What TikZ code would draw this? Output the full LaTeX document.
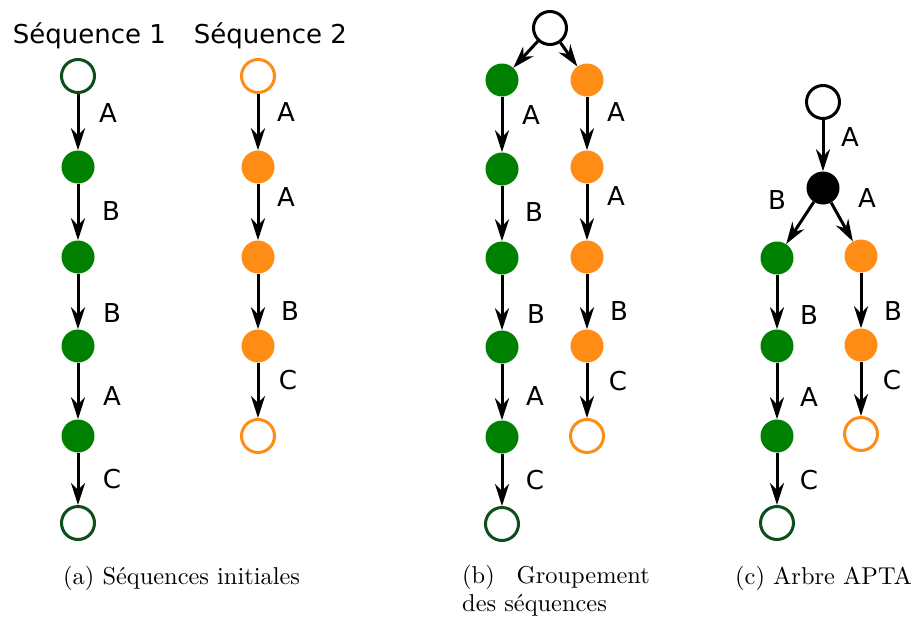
\documentclass[tikz,border=0pt]{standalone}
\usepackage{fontspec}
\newfontfamily\lblfont{DejaVu Sans}
\newfontfamily\capfont{lmroman10-regular}[Extension=.otf]
\usetikzlibrary{arrows.meta}
\definecolor{sgreen}{RGB}{0,128,0}
\definecolor{dgreen}{RGB}{14,78,26}
\definecolor{sorange}{RGB}{255,140,20}
\begin{document}
\begin{tikzpicture}[x=1pt,y=-1pt,
  full/.style={circle, minimum size=33pt, inner sep=0pt},
  fullg/.style={full, fill=sgreen},
  fullo/.style={full, fill=sorange},
  fullk/.style={full, fill=black},
  openn/.style={circle, minimum size=33pt, inner sep=0pt, line width=3pt, fill=white},
  openg/.style={openn, draw=dgreen},
  openo/.style={openn, draw=sorange},
  openk/.style={openn, draw=black},
  arr/.style={-{Stealth[length=22pt,width=14pt,inset=7pt]}, line width=3pt},
  lbl/.style={font=\lblfont\fontsize{26}{30}\selectfont, inner sep=0pt},
  ttl/.style={lbl, anchor=base},
  captxt/.style={font=\capfont\fontsize{24.4}{29}\selectfont, inner sep=0pt}
]
\useasboundingbox (0,0) rectangle (922,622);

% ---------- panel (a) ----------
\node[ttl] (t1) at (89.5,43) {Séquence 1};
\node[ttl] (t2) at (270.5,43) {Séquence 2};

\node[openg] (s1n0) at (78,76) {};
\node[fullg] (s1n1) at (78,167) {};
\node[fullg] (s1n2) at (78,257) {};
\node[fullg] (s1n3) at (78,346) {};
\node[fullg] (s1n4) at (78,436) {};
\node[openg] (s1n5) at (78,523) {};
\draw[arr] (s1n0) -- (s1n1);
\draw[arr] (s1n1) -- (s1n2);
\draw[arr] (s1n2) -- (s1n3);
\draw[arr] (s1n3) -- (s1n4);
\draw[arr] (s1n4) -- (s1n5);
\node[lbl] (la1) at (108,113) {A};
\node[lbl] (la2) at (111,211) {B};
\node[lbl] (la3) at (112,313) {B};
\node[lbl] (la4) at (112,396) {A};
\node[lbl] (la5) at (112,479) {C};

\node[openo] (s2n0) at (258,76) {};
\node[fullo] (s2n1) at (258,167) {};
\node[fullo] (s2n2) at (258,257) {};
\node[fullo] (s2n3) at (258,346) {};
\node[openo] (s2n4) at (258,436) {};
\draw[arr] (s2n0) -- (s2n1);
\draw[arr] (s2n1) -- (s2n2);
\draw[arr] (s2n2) -- (s2n3);
\draw[arr] (s2n3) -- (s2n4);
\node[lbl] (lb1) at (286,112) {A};
\node[lbl] (lb2) at (286,197) {A};
\node[lbl] (lb3) at (290,311) {B};
\node[lbl] (lb4) at (288,380) {C};

% ---------- panel (b) ----------
\node[openk] (broot) at (550,28) {};
\node[fullg] (bl0) at (502,80) {};
\node[fullg] (bl1) at (502,169) {};
\node[fullg] (bl2) at (502,258) {};
\node[fullg] (bl3) at (502,347) {};
\node[fullg] (bl4) at (502,437) {};
\node[openg] (bl5) at (502,524) {};
\node[fullo] (br0) at (587,80) {};
\node[fullo] (br1) at (587,167) {};
\node[fullo] (br2) at (587,257) {};
\node[fullo] (br3) at (587,346) {};
\node[openo] (br4) at (587,436) {};
\draw[arr] (broot) -- (bl0);
\draw[arr] (broot) -- (br0);
\draw[arr] (bl0) -- (bl1);
\draw[arr] (bl1) -- (bl2);
\draw[arr] (bl2) -- (bl3);
\draw[arr] (bl3) -- (bl4);
\draw[arr] (bl4) -- (bl5);
\draw[arr] (br0) -- (br1);
\draw[arr] (br1) -- (br2);
\draw[arr] (br2) -- (br3);
\draw[arr] (br3) -- (br4);
\node[lbl] (lc1) at (531,115) {A};
\node[lbl] (lc2) at (534,212) {B};
\node[lbl] (lc3) at (536,314) {B};
\node[lbl] (lc4) at (535,396) {A};
\node[lbl] (lc5) at (535,480) {C};
\node[lbl] (ld1) at (616,112) {A};
\node[lbl] (ld2) at (616,196) {A};
\node[lbl] (ld3) at (619,311) {B};
\node[lbl] (ld4) at (618,381) {C};

% ---------- panel (c) ----------
\node[openk] (croot) at (823,102) {};
\node[fullk] (cblk) at (823,188) {};
\node[fullg] (cl0) at (777,258) {};
\node[fullg] (cl1) at (777,346) {};
\node[fullg] (cl2) at (777,436) {};
\node[openg] (cl3) at (777,523) {};
\node[fullo] (cr0) at (861,256) {};
\node[fullo] (cr1) at (861,345) {};
\node[openo] (cr2) at (861,434) {};
\draw[arr] (croot) -- (cblk);
\draw[arr] (cblk) -- (cl0);
\draw[arr] (cblk) -- (cr0);
\draw[arr] (cl0) -- (cl1);
\draw[arr] (cl1) -- (cl2);
\draw[arr] (cl2) -- (cl3);
\draw[arr] (cr0) -- (cr1);
\draw[arr] (cr1) -- (cr2);
\node[lbl] (le1) at (850,137) {A};
\node[lbl] (le2) at (777,200) {B};
\node[lbl] (le3) at (867,198) {A};
\node[lbl] (le4) at (809,315) {B};
\node[lbl] (le5) at (809,397) {A};
\node[lbl] (le6) at (809,480) {C};
\node[lbl] (lf1) at (893,311) {B};
\node[lbl] (lf2) at (892,380) {C};

% ---------- captions ----------
\node[captxt, anchor=base west] (capa) at (63,584) {(a) Séquences initiales};
\node[captxt, anchor=base west] (capb1) at (462,583) {(b)};
\node[captxt, anchor=base east] (capb2) at (650,583) {Groupement};
\node[captxt, anchor=base west] (capb3) at (462,611) {des séquences};
\node[captxt, anchor=base west] (capc) at (735,584) {(c) Arbre APTA};
\end{tikzpicture}
\end{document}
